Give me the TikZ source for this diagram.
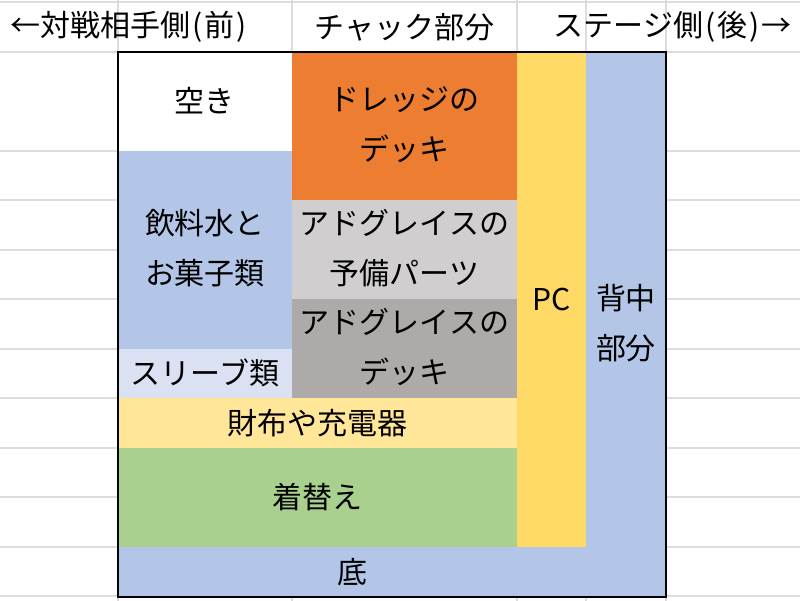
\documentclass[tikz,border=0pt]{standalone}
\usepackage{fontspec}
\setmainfont{Noto Sans CJK JP}
\usepackage{tikz}

\definecolor{gridgray}{HTML}{DCDCDC}
\definecolor{dredgeorange}{HTML}{ED7D31}
\definecolor{pcyellow}{HTML}{FFD966}
\definecolor{bagblue}{HTML}{B4C6E7}
\definecolor{sparegray}{HTML}{D0CECE}
\definecolor{deckgray}{HTML}{AEAAAA}
\definecolor{sleeveblue}{HTML}{D9E1F2}
\definecolor{walletyellow}{HTML}{FFE699}
\definecolor{clothesgreen}{HTML}{A9D08E}

\newcommand{\lpar}{\kern1pt(\kern1pt}
\newcommand{\rpar}{\kern1pt)\kern1pt}

\begin{document}
\begin{tikzpicture}[x=0.5pt,y=-0.5pt,
    every node/.style={font=\fontsize{15pt}{25pt}\selectfont,align=center,inner sep=0pt},
    gridline/.style={draw=gridgray,line width=0.6pt}]
\useasboundingbox (0,0) rectangle (800,601);
\fill[white] (0,0) rectangle (800,601);

    % sheet grid
    \foreach \y in {2,52,151,200,250,299,349,398,448,497,547,596}
        \draw[gridline] (0,\y) -- (800,\y);
    \foreach \x in {118,292,517,586,666}
        \draw[gridline] (\x,0) -- (\x,601);

    % header row
    \node[anchor=west] (front) at (10,27) {←対戦相手側\lpar 前\rpar};
    \node (chuck) at (404.5,27) {チャック部分};
    \node[anchor=east] (back) at (792,27) {ステージ側\lpar 後\rpar →};

    % compartments
    \fill[white]        (118,52)  rectangle (292,151);
    \fill[dredgeorange] (292,52)  rectangle (517,200);
    \fill[pcyellow]     (517,52)  rectangle (586,547);
    \fill[bagblue]      (586,52)  rectangle (666,597);
    \fill[bagblue]      (118,151) rectangle (292,349);
    \fill[sparegray]    (292,200) rectangle (517,299);
    \fill[deckgray]     (292,299) rectangle (517,398);
    \fill[sleeveblue]   (118,349) rectangle (292,398);
    \fill[walletyellow] (118,398) rectangle (517,448);
    \fill[clothesgreen] (118,448) rectangle (517,547);
    \fill[bagblue]      (118,547) rectangle (586,597);
    \draw[black,line width=1pt] (118,52) rectangle (666,597);

    \node (empty)   at (205,101)   {空き};
    \node (dredge)  at (404.5,125) {ドレッジの\\デッキ};
    \node (pc)      at (551.5,299) {PC};
    \node (backpart) at (626,323)  {背中\\部分};
    \node (drink)   at (205,248)   {飲料水と\\お菓子類};
    \node (spare)   at (404.5,248) {アドグレイスの\\予備パーツ};
    \node (deck)    at (404.5,347) {アドグレイスの\\デッキ};
    \node (sleeve)  at (205,373)   {スリーブ類};
    \node (wallet)  at (317.5,423) {財布や充電器};
    \node (clothes) at (317.5,497) {着替え};
    \node (bottom)  at (352,572)   {底};
\end{tikzpicture}
\end{document}
